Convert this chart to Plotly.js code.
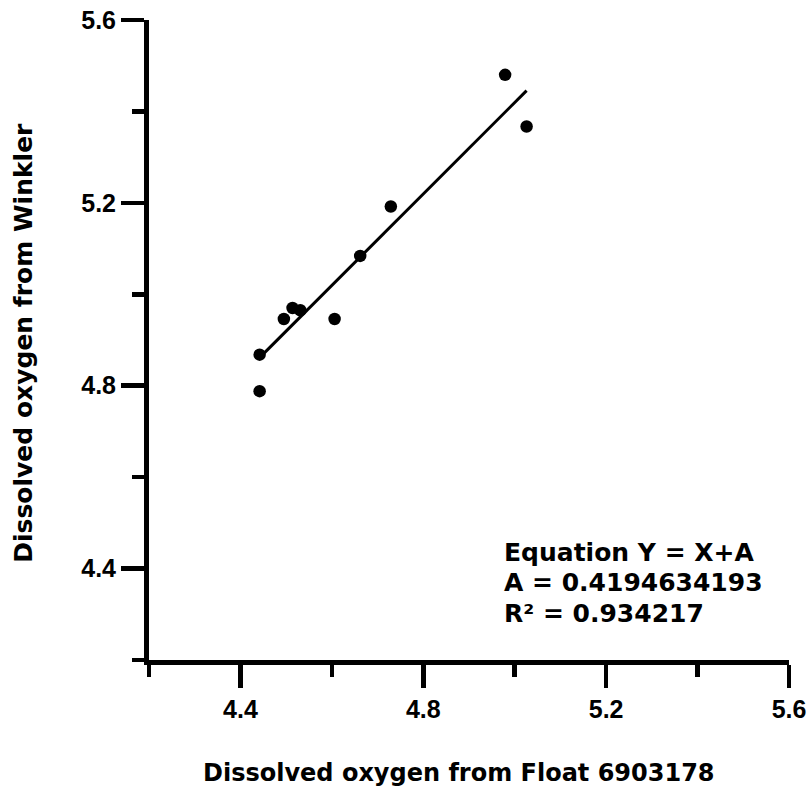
<!DOCTYPE html>
<html>
<head>
<meta charset="utf-8">
<script src="https://cdn.plot.ly/plotly-3.0.1.min.js"></script>
<style>html,body{margin:0;padding:0;background:#fff;}#chart{width:811px;height:787px;}</style>
</head>
<body>
<div id="chart"></div>
<script>
// Data
const floatDO   = [4.979, 5.026, 4.729, 4.662, 4.514, 4.531, 4.495, 4.606, 4.442, 4.442];
const winklerDO = [5.480, 5.367, 5.192, 5.084, 4.970, 4.965, 4.946, 4.946, 4.868, 4.788];
const interceptA = 0.4194634193;
const rSquared = 0.934217;
const tickVals = [4.4, 4.8, 5.2, 5.6];
const tickText = ['4.4', '4.8', '5.2', '5.6'];
const minorVals = [4.2, 4.6, 5.0, 5.4];
const xTitle = 'Dissolved oxygen from Float 6903178';
const yTitle = 'Dissolved oxygen from Winkler';

const fitX = [Math.min(...floatDO), Math.max(...floatDO)];
const fitY = fitX.map(v => v + interceptA);

const TICKFONT = 'Liberation Sans, Arial, sans-serif';
const TEXTFONT = 'DejaVu Sans, Verdana, sans-serif';

const traces = [
  {x: fitX, y: fitY, mode: 'lines', type: 'scatter', line: {color: '#000', width: 3}, hoverinfo: 'skip', cliponaxis: false},
  {x: floatDO, y: winklerDO, mode: 'markers', type: 'scatter', marker: {color: '#000', size: 12.5}, cliponaxis: false}
];

const axisCommon = {
  range: [4.2, 5.6],
  showgrid: false, zeroline: false,
  showline: true, linecolor: '#000', linewidth: 5,
  ticks: 'outside', ticklen: 23, tickwidth: 4.5, tickcolor: '#000',
  tickvals: tickVals, ticktext: tickText,
  tickfont: {family: TICKFONT, size: 25, color: '#000', weight: 'bold'},
  minor: {tickvals: minorVals, ticks: 'outside', ticklen: 12, tickwidth: 4.5, tickcolor: '#000', showgrid: false},
  fixedrange: true
};

const textStyle = (size) => ({family: TEXTFONT, size: size, color: '#000', weight: 'bold'});
const statLine = (txt, py) => ({xref: 'paper', yref: 'paper', x: 0.553, y: (660 - py) / 640, xanchor: 'left', yanchor: 'middle',
  showarrow: false, borderpad: 0, text: '<b>' + txt + '</b>', font: textStyle(25)});

const layout = {
  width: 811, height: 787,
  margin: {l: 148.5, r: 21.7, t: 20, b: 127},
  paper_bgcolor: '#fff', plot_bgcolor: '#fff',
  showlegend: false,
  xaxis: Object.assign({}, axisCommon),
  yaxis: Object.assign({}, axisCommon),
  annotations: [
    {xref: 'paper', yref: 'paper', x: 0.4838, y: -0.176, xanchor: 'center', yanchor: 'middle', showarrow: false,
     text: '<b>' + xTitle + '</b>', font: textStyle(24)},
    {xref: 'paper', yref: 'paper', x: -0.196, y: 0.495, xanchor: 'center', yanchor: 'middle', showarrow: false, textangle: -90,
     text: '<b>' + yTitle + '</b>', font: textStyle(25)},
    statLine('Equation Y = X+A', 552),
    statLine('A = ' + interceptA, 582.5),
    statLine('R\u00B2 = ' + rSquared, 613)
  ]
};

Plotly.newPlot('chart', traces, layout, {displayModeBar: false, staticPlot: true});
</script>
</body>
</html>
